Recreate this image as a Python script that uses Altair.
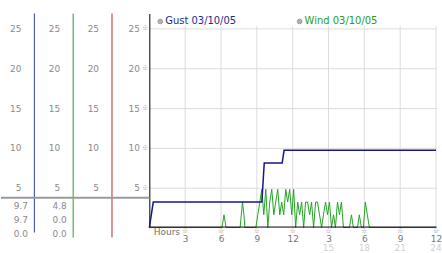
import altair as alt
import pandas as pd

FONT = "DejaVu Sans"

# ---------------- data ----------------
tick_values = [5, 10, 15, 20, 25]
hour_ticks = [3, 6, 9, 12, 15, 18, 21, 24]
late_hours = [15, 18, 21, 24]
late_labels = ["15", "18", "21", "24"]

gust_hours = [0.0, 0.33, 9.42, 9.62, 11.12, 11.28, 24.0]
gust_speed = [0.0, 3.2, 3.2, 8.1, 8.1, 9.7, 9.7]

wind_hours = [0.0, 6.08, 6.25, 6.42, 7.6, 7.8, 7.92, 8.0, 8.92,
              9.08, 9.25, 9.42, 9.58, 9.75, 9.92, 10.08, 10.25, 10.42, 10.58,
              10.75, 10.92, 11.08, 11.25, 11.42, 11.58, 11.75, 11.92, 12.08, 12.25,
              12.42, 12.58, 12.75, 12.92, 13.08, 13.25, 13.42, 13.58, 13.75, 13.92,
              14.08, 14.25, 14.42, 14.58, 14.75, 14.92, 15.08, 15.25, 15.42, 15.58,
              15.75, 15.92, 16.08, 16.25, 16.75, 16.92, 17.08, 17.42, 17.58, 17.75,
              17.92, 18.08, 18.25, 18.42, 24.0]
wind_speed = [0.0, 0.0, 1.6, 0.0, 0.0, 3.2, 1.6, 0.0, 0.0,
              1.6, 3.2, 4.8, 1.6, 4.8, 0.0, 3.2, 4.8, 1.6, 3.2,
              4.8, 1.6, 3.2, 1.6, 4.8, 3.2, 4.8, 1.6, 4.8, 0.0,
              3.2, 1.6, 3.2, 0.0, 3.2, 3.2, 1.6, 3.2, 0.0, 3.2,
              3.2, 1.6, 0.0, 1.6, 3.2, 1.6, 3.2, 0.0, 1.6, 0.0,
              3.2, 1.6, 3.2, 0.0, 0.0, 1.6, 0.0, 0.0, 1.6, 0.0,
              0.0, 3.2, 1.6, 0.0, 0.0]

column_colors = ["#24439c", "#2e9e2e", "#b02c2c"]
column_ends = [-0.625, -1.25, -1.25]
column_widths = [39, 39, 38]
column_stats = [["9.7", "9.7", "0.0"], ["4.8", "0.0", "0.0"], []]

legend_names = ["Gust 03/10/05", "Wind 03/10/05"]
legend_colors = ["#1b2a8e", "#1e9e1e"]

# ---------------- layout constants ----------------
W, H = 288, 215
TOP = 26.875
xs = alt.Scale(domain=[0, 24], nice=False, zero=False)
ys = alt.Scale(domain=[0, TOP], nice=False, zero=False)


def side_panel(i):
    df = pd.DataFrame({"top": [TOP], "bottom": [column_ends[i]]})
    axis = alt.Axis(values=tick_values, domain=False, ticks=False, grid=False,
                    labelPadding=13, labelColor="#8a8a8a", labelFont=FONT,
                    labelFontSize=9, title=None)
    line = alt.Chart(df).mark_rule(color=column_colors[i], strokeWidth=1).encode(
        x=alt.value(0.5),
        y=alt.Y("top:Q", scale=ys, axis=axis),
        y2="bottom:Q",
    )
    layers = [line]
    for k, s in enumerate(column_stats[i]):
        t = alt.Chart(pd.DataFrame({"s": [s]})).mark_text(
            align="right", baseline="middle", font=FONT, fontSize=9, color="#8a8a8a"
        ).encode(x=alt.value(-6), y=alt.value(193 + 14 * k), text="s:N")
        layers.append(t)
    return alt.layer(*layers).properties(width=column_widths[i], height=H)


x_axis = alt.Axis(values=hour_ticks,
                  labelExpr="toString(datum.value > 12 ? datum.value - 12 : datum.value)",
                  domainColor="black", domainWidth=1, ticks=False, grid=False,
                  labelPadding=8, labelColor="#777777", labelFont=FONT, labelFontSize=9,
                  labelFlush=False, offset=-1, zindex=1,
                  title="Hours", titleX=4, titleY=1, titleAlign="left",
                  titleBaseline="top", titleFontWeight="normal", titleColor="#707070",
                  titleFont=FONT, titleFontSize=9)
y_axis = alt.Axis(values=tick_values, domain=True, domainColor="black", domainWidth=1,
                  ticks=False, grid=True, gridColor="#dcdcdc", gridWidth=1,
                  labelPadding=10, labelColor="#8a8a8a", labelFont=FONT,
                  labelFontSize=9, title=None)

grid_df = pd.DataFrame({"h": hour_ticks, "lo": [0.0] * len(hour_ticks),
                        "hi": [25.3] * len(hour_ticks)})
gust_df = pd.DataFrame({"h": gust_hours, "v": gust_speed, "i": range(len(gust_hours))})
wind_df = pd.DataFrame({"h": wind_hours, "v": wind_speed, "i": range(len(wind_hours))})

vgrid = alt.Chart(grid_df).mark_rule(color="#dcdcdc", strokeWidth=1).encode(
    x=alt.X("h:Q", scale=xs, axis=x_axis),
    y=alt.Y("lo:Q", scale=ys, axis=y_axis),
    y2="hi:Q",
)

wind = alt.Chart(wind_df).mark_line(color="#22a322", strokeWidth=1).encode(
    x=alt.X("h:Q", scale=xs, axis=x_axis),
    y=alt.Y("v:Q", scale=ys, axis=y_axis),
    order="i:Q",
)

gust = alt.Chart(gust_df).mark_line(color="#16168a", strokeWidth=1.5).encode(
    x=alt.X("h:Q", scale=xs, axis=x_axis),
    y=alt.Y("v:Q", scale=ys, axis=y_axis),
    order="i:Q",
)

xmark_df = pd.DataFrame({"h": hour_ticks, "m": ["※"] * len(hour_ticks)})
xmarks = alt.Chart(xmark_df).mark_text(fontSize=6, color="#a0a0a0", baseline="middle",
                                       font="Noto Sans CJK SC").encode(
    x=alt.X("h:Q", scale=xs, axis=x_axis), y=alt.value(H + 3), text="m:N")

ymark_df = pd.DataFrame({"v": tick_values, "m": ["※"] * len(tick_values)})
ymarks = alt.Chart(ymark_df).mark_text(fontSize=6, color="#a0a0a0", baseline="middle",
                                       font="Noto Sans CJK SC").encode(
    x=alt.value(-4), y=alt.Y("v:Q", scale=ys, axis=y_axis), text="m:N")

late_df = pd.DataFrame({"h": late_hours, "t": late_labels})
late = alt.Chart(late_df).mark_text(fontSize=9, font=FONT, color="#cfcfcf",
                                    baseline="middle").encode(
    x=alt.X("h:Q", scale=xs, axis=x_axis), y=alt.value(H + 21), text="t:N")

sep = alt.Chart(pd.DataFrame({"k": [0]})).mark_rule(color="#9a9a9a", strokeWidth=2).encode(
    x=alt.value(-149), x2=alt.value(0), y=alt.value(185))

legend_layers = []
for k, (name, col) in enumerate(zip(legend_names, legend_colors)):
    ldf = pd.DataFrame({"name": [name]})
    px = 11 + 140 * k
    legend_layers.append(
        alt.Chart(ldf).mark_point(filled=True, shape="circle", size=22, fill="#b4b4b4",
                                  stroke="#8c8c8c", strokeWidth=0.8, opacity=1).encode(
            x=alt.value(px), y=alt.value(8)))
    legend_layers.append(
        alt.Chart(ldf).mark_text(align="left", baseline="middle", font=FONT, fontSize=10,
                                 color=col).encode(
            x=alt.value(px + 5), y=alt.value(8), text="name:N"))

main = alt.layer(vgrid, wind, gust, xmarks, ymarks, late, sep, *legend_layers).properties(
    width=W, height=H)

chart = alt.hconcat(side_panel(0), side_panel(1), side_panel(2), main,
                    spacing=0, bounds="flush").properties(
    padding={"left": 0, "top": 12, "right": 0, "bottom": 0},
    background="white",
).configure_view(stroke=None)

chart.save("out.html", embed_options={"renderer": "svg", "actions": False})
